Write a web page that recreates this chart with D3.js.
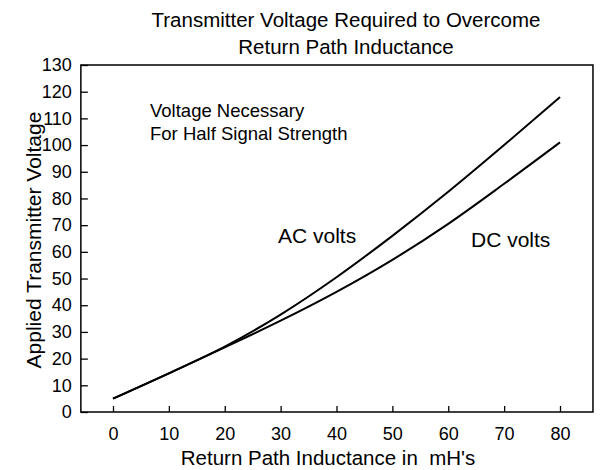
<!DOCTYPE html>
<html>
<head>
<meta charset="utf-8">
<script src="https://cdn.jsdelivr.net/npm/d3@7"></script>
<style>
  body { margin: 0; background: #fff; }
  svg { font-family: "Liberation Sans", Arial, Helvetica, sans-serif; }
  .tick line { stroke: #000; stroke-width: 1.3; }
  .tick text { fill: #000; font-size: 18px; }
</style>
</head>
<body>
<div id="chart"></div>
<script>
// chart values
var inductance = [0, 10, 20, 30, 40, 50, 60, 70, 80];
var acVolts = [5, 14.5, 24.5, 36.5, 50.5, 66, 82.5, 100, 118];
var dcVolts = [5, 14.5, 24.2, 34.2, 45, 57, 70.5, 85.5, 101];
var xTicks = [0, 10, 20, 30, 40, 50, 60, 70, 80];
var yTicks = [0, 10, 20, 30, 40, 50, 60, 70, 80, 90, 100, 110, 120, 130];

var svgWidth = 602;
var svgHeight = 470;

var svg = d3.select("#chart")
  .append("svg")
  .attr("width", svgWidth)
  .attr("height", svgHeight);

// scales: x 0..80 drawn at 113..560, frame runs a bit past both ends
var xScale = d3.scaleLinear().domain([0, 80]).range([113, 560]);
var yScale = d3.scaleLinear().domain([0, 130]).range([412, 65]);
var xLeft = xScale(-5.75);
var xRight = xScale(85.9);

// title
svg.append("text")
  .attr("x", 346)
  .attr("y", 27)
  .attr("text-anchor", "middle")
  .style("font-size", "20.5px")
  .text("Transmitter Voltage Required to Overcome");

svg.append("text")
  .attr("x", 346)
  .attr("y", 54)
  .attr("text-anchor", "middle")
  .style("font-size", "20.5px")
  .text("Return Path Inductance");

// x axis, ticks pointing up into the plot
var xAxis = svg.append("g")
  .attr("transform", `translate(0, ${yScale(0)})`)
  .call(d3.axisBottom(xScale).tickValues(xTicks).tickSizeInner(-6).tickSizeOuter(0).tickPadding(15));
xAxis.select(".domain").remove();

// y axis, ticks pointing right into the plot
var yAxis = svg.append("g")
  .attr("transform", `translate(${xLeft}, 0)`)
  .call(d3.axisLeft(yScale).tickValues(yTicks).tickSizeInner(-7).tickSizeOuter(0).tickPadding(9));
yAxis.select(".domain").remove();

// frame
svg.append("rect")
  .attr("x", xLeft)
  .attr("y", yScale(130))
  .attr("width", xRight - xLeft)
  .attr("height", yScale(0) - yScale(130))
  .attr("fill", "none")
  .attr("stroke", "#000")
  .attr("stroke-width", 1.5);

// curves
var line = d3.line()
  .x((d, i) => xScale(inductance[i]))
  .y(d => yScale(d))
  .curve(d3.curveMonotoneX);

svg.append("path")
  .attr("d", line(acVolts))
  .attr("fill", "none")
  .attr("stroke", "#000")
  .attr("stroke-width", 2);

svg.append("path")
  .attr("d", line(dcVolts))
  .attr("fill", "none")
  .attr("stroke", "#000")
  .attr("stroke-width", 2);

// notes inside the plot
svg.append("text")
  .attr("x", 150)
  .attr("y", 117)
  .style("font-size", "18.5px")
  .text("Voltage Necessary");

svg.append("text")
  .attr("x", 150)
  .attr("y", 140)
  .style("font-size", "18.5px")
  .text("For Half Signal Strength");

svg.append("text")
  .attr("x", 278)
  .attr("y", 243)
  .style("font-size", "21px")
  .text("AC volts");

svg.append("text")
  .attr("x", 471)
  .attr("y", 247)
  .style("font-size", "21px")
  .text("DC volts");

// axis titles
svg.append("text")
  .attr("x", 328)
  .attr("y", 465)
  .attr("text-anchor", "middle")
  .style("font-size", "20.5px")
  .style("white-space", "pre")
  .text("Return Path Inductance in  mH's");

svg.append("text")
  .attr("transform", "translate(41, 240) rotate(-90)")
  .attr("text-anchor", "middle")
  .style("font-size", "21px")
  .text("Applied Transmitter Voltage");
</script>
</body>
</html>
